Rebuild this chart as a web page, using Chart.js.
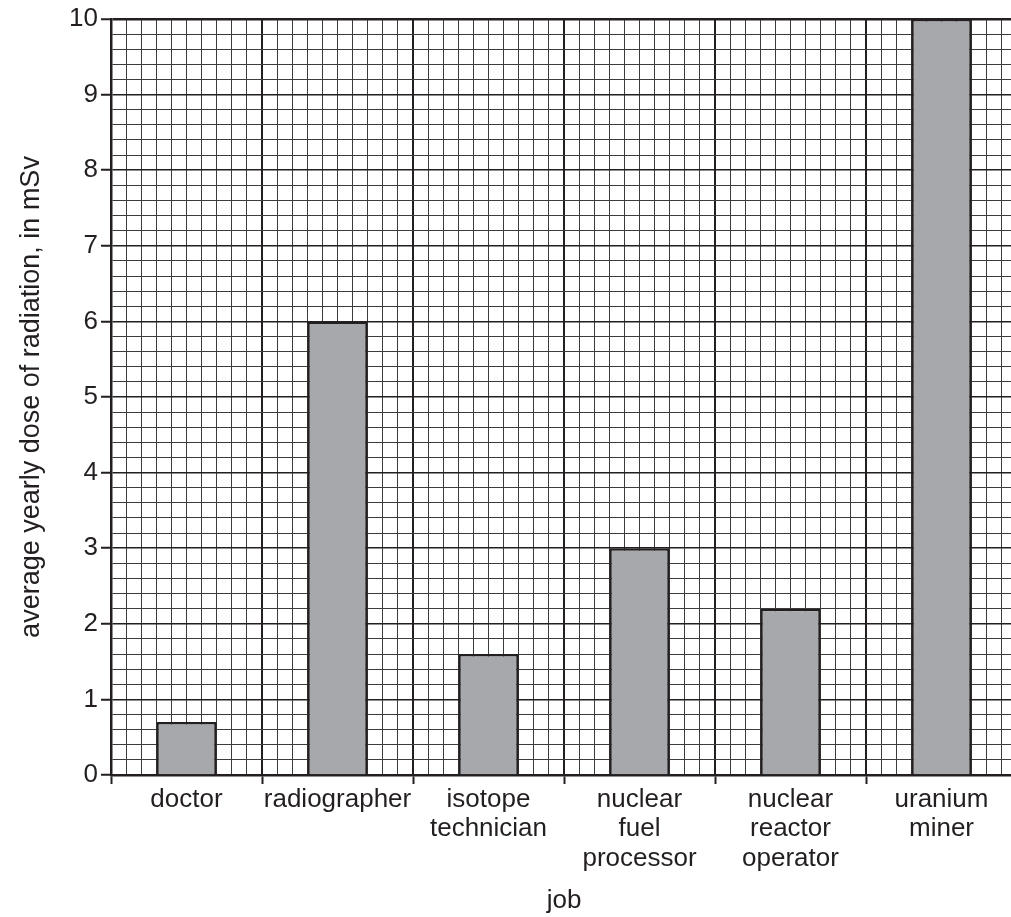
<!DOCTYPE html>
<html>
<head>
<meta charset="utf-8">
<script src="https://cdn.jsdelivr.net/npm/chart.js@4/dist/chart.umd.min.js"></script>
<style>
  html, body { margin: 0; padding: 0; background: #fff; overflow: hidden; }
  #wrap { width: 1030px; height: 917px; }
</style>
</head>
<body>
<div id="wrap"><canvas id="chart" width="1030" height="917"></canvas></div>
<script>
// job categories (multi-line labels as printed)
const jobs = [
    ['doctor'],
    ['radiographer'],
    ['isotope', 'technician'],
    ['nuclear', 'fuel', 'processor'],
    ['nuclear', 'reactor', 'operator'],
    ['uranium', 'miner']
];
// average yearly dose, mSv
const doses = [0.7, 6.0, 1.6, 3.0, 2.2, 10.0];

const yMin = 0;
const yMax = 10;
const yStep = 0.2;   // small squares
const xSquares = 60; // 10 small squares per job

const ink = '#231f20';
const minor = '#3c3c3c';
const font = { family: 'Liberation Sans, Arial, Helvetica, sans-serif', size: 26 };

const isWhole = v => Math.abs(v - Math.round(v)) < 1e-6;
const tickVal = c => (c.tick ? c.tick.value : NaN);

const ctx = document.getElementById('chart').getContext('2d');

new Chart(ctx, {
    type: 'bar',
    data: {
        labels: jobs,
        datasets: [{
            data: doses,
            backgroundColor: '#a7a8ab',
            borderColor: ink,
            borderWidth: 2.5,
            barPercentage: 0.4,
            categoryPercentage: 1
        }]
    },
    options: {
        responsive: false,
        devicePixelRatio: 1,
        animation: false,
        layout: { padding: { left: 0, right: 13, top: 19, bottom: 0 } },
        plugins: {
            legend: { display: false },
            tooltip: { enabled: false }
        },
        scales: {
            x: {
                type: 'category',
                position: 'bottom',
                border: { display: true, color: ink, width: 2.5 },
                grid: {
                    offset: true,
                    drawOnChartArea: false,
                    drawTicks: true,
                    tickLength: 9,
                    tickColor: ink,
                    tickWidth: 2
                },
                ticks: {
                    color: ink,
                    font: { ...font, lineHeight: 1.13 },
                    padding: 1,
                    maxRotation: 0,
                    autoSkip: false
                },
                title: {
                    display: true,
                    text: 'job',
                    color: ink,
                    font: font,
                    padding: { top: 0, bottom: 1 }
                },
                afterFit: scale => { scale.height = 142; }
            },
            // hidden axis only used for the small-square vertical grid lines
            xg: {
                type: 'linear',
                position: 'bottom',
                min: 0,
                max: xSquares,
                offset: false,
                border: { display: false },
                grid: {
                    offset: false,
                    drawTicks: false,
                    color: c => (tickVal(c) % 10 === 0 ? ink : minor),
                    lineWidth: c => (tickVal(c) % 10 === 0 ? 2 : 1)
                },
                ticks: { display: false, stepSize: 1, autoSkip: false },
                afterFit: scale => { scale.height = 0; }
            },
            y: {
                type: 'linear',
                min: yMin,
                max: yMax,
                border: { display: true, color: ink, width: 2.5 },
                grid: {
                    color: c => (isWhole(tickVal(c)) ? ink : minor),
                    lineWidth: c => (isWhole(tickVal(c)) ? (tickVal(c) === yMax ? 2.5 : 1.5) : 1),
                    tickLength: 10,
                    tickColor: c => (isWhole(tickVal(c)) ? ink : 'rgba(0,0,0,0)'),
                    tickWidth: 2
                },
                ticks: {
                    stepSize: yStep,
                    autoSkip: false,
                    color: ink,
                    font: font,
                    padding: 3,
                    callback: v => (isWhole(v) ? String(Math.round(v)) : '')
                },
                title: {
                    display: true,
                    text: 'average yearly dose of radiation, in mSv',
                    color: ink,
                    font: { ...font, size: 27 },
                    padding: { top: 15, bottom: 0 }
                },
                afterFit: scale => { scale.width = 111; }
            }
        }
    }
});
</script>
</body>
</html>
